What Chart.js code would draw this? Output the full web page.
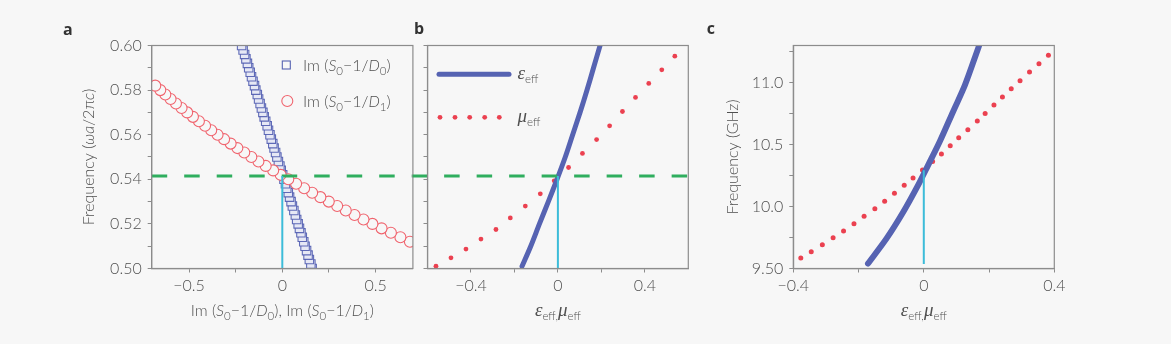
<!DOCTYPE html>
<html>
<head>
<meta charset="utf-8">
<script src="https://cdn.jsdelivr.net/npm/chart.js@4.4.1/dist/chart.umd.min.js"></script>
<style>
  body { margin: 0; background: #f7f7f7; }
  #wrap { position: relative; width: 1171px; height: 344px; background: #f7f7f7; overflow: hidden; }
  canvas { position: absolute; top: 0; }
</style>
</head>
<body>
<div id="wrap">
  <canvas id="panelA" width="420" height="344" style="left:0px"></canvas>
  <canvas id="panelB" width="300" height="344" style="left:400px"></canvas>
  <canvas id="panelC" width="471" height="344" style="left:700px"></canvas>
</div>
<script>
// ---- data ----

// panel a: Im(S0-1/D0) squares
const sqFreq = [0.500,0.502,0.504,0.506,0.508,0.510,0.512,0.514,0.516,0.518,0.520,0.522,0.524,0.526,0.528,0.530,0.532,0.534,0.536,0.538,0.540,0.542,0.544,0.546,0.548,0.550,0.552,0.554,0.556,0.558,0.560,0.562,0.564,0.566,0.568,0.570,0.572,0.574,0.576,0.578,0.580,0.582,0.584,0.586,0.588,0.590,0.592,0.594,0.596,0.598,0.600];
const imD0 = [0.160,0.153,0.145,0.138,0.130,0.122,0.115,0.107,0.100,0.092,0.085,0.077,0.070,0.062,0.054,0.047,0.039,0.032,0.024,0.017,0.009,0.002,-0.006,-0.013,-0.021,-0.029,-0.036,-0.044,-0.051,-0.059,-0.066,-0.074,-0.081,-0.089,-0.097,-0.104,-0.112,-0.119,-0.127,-0.134,-0.142,-0.149,-0.157,-0.165,-0.172,-0.180,-0.187,-0.195,-0.202,-0.210,-0.218];

// panel a: Im(S0-1/D1) circles
const circFreq = [0.512,0.514,0.516,0.518,0.520,0.522,0.524,0.526,0.528,0.530,0.532,0.534,0.536,0.538,0.540,0.542,0.544,0.546,0.548,0.550,0.552,0.554,0.556,0.558,0.560,0.562,0.564,0.566,0.568,0.570,0.572,0.574,0.576,0.578,0.580,0.582];
const imD1 = [0.684,0.633,0.582,0.532,0.483,0.435,0.387,0.340,0.294,0.249,0.204,0.160,0.117,0.074,0.032,-0.009,-0.049,-0.089,-0.128,-0.166,-0.204,-0.241,-0.277,-0.312,-0.347,-0.381,-0.414,-0.447,-0.479,-0.510,-0.540,-0.570,-0.599,-0.627,-0.654,-0.681];

// panel b: eps_eff line and mu_eff dots (normalised frequency)
const epsFreqB = [0.501,0.51,0.52,0.53,0.54,0.55,0.56,0.57,0.58,0.59,0.60];
const epsB = [-0.165,-0.125,-0.085,-0.044,-0.004,0.034,0.068,0.102,0.134,0.164,0.194];
const muFreqB = [0.5010,0.5048,0.5087,0.5132,0.5175,0.5227,0.5280,0.5335,0.5393,0.5453,0.5516,0.5578,0.5640,0.5704,0.5767,0.5830,0.5891,0.5952];
const muB = [-0.561,-0.492,-0.423,-0.354,-0.285,-0.219,-0.150,-0.081,-0.017,0.049,0.113,0.178,0.238,0.297,0.357,0.418,0.478,0.538];

// panel c: same in GHz
const epsFreqC = [9.54,9.743,9.956,10.175,10.333,10.525,10.768,10.98,11.28,11.31];
const epsC = [-0.171,-0.114,-0.063,-0.017,0.013,0.049,0.090,0.126,0.167,0.171];
const muFreqC = [9.584,9.635,9.692,9.748,9.802,9.862,9.921,9.983,10.042,10.107,10.172,10.231,10.296,10.363,10.425,10.490,10.555,10.619,10.690,10.752,10.819,10.884,10.951,11.016,11.086,11.153,11.221];
const muC = [-0.377,-0.345,-0.311,-0.278,-0.246,-0.214,-0.183,-0.150,-0.120,-0.090,-0.060,-0.033,-0.004,0.027,0.054,0.081,0.107,0.135,0.164,0.188,0.215,0.241,0.268,0.295,0.324,0.353,0.382];

// guide lines
const crossFreq = 0.5415;          // green dashed, panels a and b
const cyanC = [9.537, 10.293];     // cyan marker, panel c

// ticks
const freqTicks = [0.50,0.51,0.52,0.53,0.54,0.55,0.56,0.57,0.58,0.59,0.60];
const freqTickLabels = ['0.50','','0.52','','0.54','','0.56','','0.58','','0.60'];
const aXTicks = [-0.5,-0.25,0,0.25,0.5];
const aXTickLabels = ['\u22120.5','','0','','0.5'];
const bXTicks = [-0.4,-0.2,0,0.2,0.4];
const bXTickLabels = ['\u22120.4','','0','','0.4'];
const cXTicks = [-0.4,-0.2,0,0.2,0.4];
const cXTickLabels = ['\u22120.4','','0','','0.4'];
const cYTicks = [9.5,9.75,10,10.25,10.5,10.75,11,11.25];
const cYTickLabels = ['9.50','','10.0','','10.5','','11.0',''];

// ---- styles ----
const BG = '#f7f7f7';
const BLUE = '#5663b2';
const RED = '#eb4150';
const RED_RING = '#f0646e';
const GREEN = '#2fae5e';
const CYAN = '#3cbcd9';
const FRAME = '#8c8c8c';
const TXT = '#505050';

const pts = (xs, ys) => xs.map((x, i) => ({x: x, y: ys[i]}));

function axis(pos, min, max, ticks, labels, size) {
  return {
    type: 'linear', position: pos, min: min, max: max,
    afterBuildTicks: s => { s.ticks = ticks.map(v => ({value: v})); },
    afterFit: s => { if (pos === 'left') s.width = size; else s.height = size; },
    ticks: {
      callback: (v, i) => labels[i],
      color: TXT, font: {family: 'Lato', size: 16, weight: '300'},
      padding: pos === 'left' ? 6 : 4, maxRotation: 0, autoSkip: false
    },
    grid: { drawOnChartArea: false, tickLength: 4, color: FRAME, lineWidth: 1 },
    border: { color: FRAME, width: 1.2 }
  };
}

// rich text with italics and subscripts
const FONTS = {
  n: '300 16px Lato',
  i: 'italic 300 16px Lato',
  g: 'italic 19px "Liberation Serif"',
  s: '300 11.5px Lato',
  b: 'bold 16px "Open Sans"'
};
function drawRich(ctx, parts, x, y, align) {
  let w = 0;
  parts.forEach(([t, k]) => { ctx.font = FONTS[k]; w += ctx.measureText(t).width; });
  let cx = align === 'center' ? x - w / 2 : x;
  parts.forEach(([t, k]) => {
    ctx.font = FONTS[k];
    ctx.fillText(t, cx, y + (k === 's' ? 4 : 0));
    cx += ctx.measureText(t).width;
  });
}

const frame = {
  id: 'frame',
  afterDatasetsDraw(chart) {
    const {ctx, chartArea: a} = chart;
    ctx.save();
    ctx.strokeStyle = FRAME;
    ctx.lineWidth = 1.2;
    ctx.strokeRect(a.left, a.top, a.right - a.left, a.bottom - a.top);
    ctx.restore();
  }
};

const notes = {
  id: 'notes',
  afterDraw(chart, args, opts) {
    const {ctx, chartArea: a} = chart;
    ctx.save();
    ctx.textAlign = 'left';
    ctx.textBaseline = 'alphabetic';
    (opts.items || []).forEach(it => {
      ctx.save();
      ctx.fillStyle = it.color || TXT;
      ctx.translate(it.ax(a), it.ay(a));
      if (it.rot) ctx.rotate(it.rot);
      drawRich(ctx, it.parts, 0, 0, it.align);
      ctx.restore();
    });
    if (opts.extra) opts.extra(ctx, a);
    ctx.restore();
  }
};

const epsParts = [['\u03b5', 'g'], ['eff', 's']];
const muParts = [['\u03bc', 'g'], ['eff', 's']];
const epsMuTitle = [['\u03b5', 'g'], ['eff,', 's'], ['\u03bc', 'g'], ['eff', 's']];

function base(scales, notesOpts) {
  return {
    responsive: false, animation: false,
    layout: { padding: notesOpts.pad },
    scales: scales,
    plugins: { legend: {display: false}, tooltip: {enabled: false}, notes: notesOpts }
  };
}

// ---- panel a ----
new Chart(document.getElementById('panelA'), {
  type: 'scatter',
  data: {
    datasets: [
      { data: [{x: 0, y: 0.50}, {x: 0, y: crossFreq}], showLine: true, borderColor: CYAN, borderWidth: 2, pointRadius: 0, order: 0 },
      { data: [{x: -0.7, y: crossFreq}, {x: 0.7, y: crossFreq}], showLine: true, borderColor: GREEN, borderWidth: 3, borderDash: [15.5, 17], pointRadius: 0, clip: false, order: 1 },
      { data: pts(imD1, circFreq), pointStyle: 'circle', pointRadius: 5.5, borderColor: RED_RING, borderWidth: 1.1, backgroundColor: BG, order: 2 },
      { data: pts(imD0, sqFreq), pointStyle: 'rect', pointRadius: 6, borderColor: 'rgba(80,92,176,0.9)', borderWidth: 1.1, backgroundColor: '#e6e8f5', order: 3 }
    ]
  },
  options: base({
    x: axis('bottom', -0.7, 0.7, aXTicks, aXTickLabels, 75.5),
    y: axis('left', 0.50, 0.60, freqTicks, freqTickLabels, 151.7)
  }, {
    pad: {left: 0, right: 7, top: 45.5, bottom: 0},
    items: [
      { ax: a => 63, ay: a => 35, parts: [['a', 'b']], color: '#333' },
      { ax: a => a.left - 58, ay: a => (a.top + a.bottom) / 2, rot: -Math.PI / 2, align: 'center',
        parts: [['Frequency (', 'n'], ['\u03c9a', 'i'], ['/2\u03c0', 'n'], ['c', 'i'], [')', 'n']] },
      { ax: a => (a.left + a.right) / 2, ay: a => a.bottom + 47, align: 'center',
        parts: [['Im (', 'n'], ['S', 'i'], ['0', 's'], ['\u22121/', 'n'], ['D', 'i'], ['0', 's'], ['), Im (', 'n'], ['S', 'i'], ['0', 's'], ['\u22121/', 'n'], ['D', 'i'], ['1', 's'], [')', 'n']] },
      { ax: a => 303, ay: a => 70.5,
        parts: [['Im (', 'n'], ['S', 'i'], ['0', 's'], ['\u22121/', 'n'], ['D', 'i'], ['0', 's'], [')', 'n']] },
      { ax: a => 303, ay: a => 106.5,
        parts: [['Im (', 'n'], ['S', 'i'], ['0', 's'], ['\u22121/', 'n'], ['D', 'i'], ['1', 's'], [')', 'n']] }
    ],
    extra: (ctx) => {
      ctx.lineWidth = 1.1;
      ctx.strokeStyle = BLUE;
      ctx.strokeRect(282.3, 61, 8, 8);
      ctx.strokeStyle = RED_RING;
      ctx.beginPath();
      ctx.arc(287.3, 101, 5.5, 0, Math.PI * 2);
      ctx.stroke();
    }
  }),
  plugins: [frame, notes]
});

// ---- panel b ----
new Chart(document.getElementById('panelB'), {
  type: 'scatter',
  data: {
    datasets: [
      { data: [{x: 0, y: 0.50}, {x: 0, y: crossFreq}], showLine: true, borderColor: CYAN, borderWidth: 2, pointRadius: 0, order: 0 },
      { data: [{x: -0.667, y: crossFreq}, {x: 0.6, y: crossFreq}], showLine: true, borderColor: GREEN, borderWidth: 3, borderDash: [15.5, 17], borderDashOffset: 1.3, pointRadius: 0, clip: false, order: 1 },
      { data: pts(epsB, epsFreqB), showLine: true, borderColor: BLUE, borderWidth: 5, borderCapStyle: 'round', tension: 0.3, pointRadius: 0, order: 2 },
      { data: pts(muB, muFreqB), pointRadius: 2.4, borderWidth: 0, backgroundColor: RED, order: 3 }
    ]
  },
  options: base({
    x: axis('bottom', -0.6, 0.6, bXTicks, bXTickLabels, 75.5),
    y: axis('left', 0.50, 0.60, freqTicks, freqTicks.map(() => ''), 27.5)
  }, {
    pad: {left: 0, right: 11.7, top: 45.5, bottom: 0},
    items: [
      { ax: a => 14, ay: a => 34, parts: [['b', 'b']], color: '#333' },
      { ax: a => (a.left + a.right) / 2, ay: a => a.bottom + 47, align: 'center', parts: epsMuTitle },
      { ax: a => 117.5, ay: a => 78.5, parts: epsParts },
      { ax: a => 117.5, ay: a => 121.5, parts: muParts }
    ],
    extra: (ctx) => {
      ctx.strokeStyle = BLUE;
      ctx.lineWidth = 5;
      ctx.lineCap = 'round';
      ctx.beginPath();
      ctx.moveTo(39, 74.3);
      ctx.lineTo(109, 74.3);
      ctx.stroke();
      ctx.fillStyle = RED;
      [40, 55, 69.7, 84.7, 99.3].forEach(x => {
        ctx.beginPath();
        ctx.arc(x, 117.3, 2.4, 0, Math.PI * 2);
        ctx.fill();
      });
    }
  }),
  plugins: [frame, notes]
});

// ---- panel c ----
new Chart(document.getElementById('panelC'), {
  type: 'scatter',
  data: {
    datasets: [
      { data: [{x: 0, y: cyanC[0]}, {x: 0, y: cyanC[1]}], showLine: true, borderColor: CYAN, borderWidth: 2, pointRadius: 0, order: 0 },
      { data: pts(epsC, epsFreqC), showLine: true, borderColor: BLUE, borderWidth: 6, borderCapStyle: 'round', tension: 0.3, pointRadius: 0, order: 1 },
      { data: pts(muC, muFreqC), pointRadius: 2.5, borderWidth: 0, backgroundColor: RED, order: 2 }
    ]
  },
  options: base({
    x: axis('bottom', -0.4, 0.4, cXTicks, cXTickLabels, 75.5),
    y: axis('left', 9.5, 11.3, cYTicks, cYTickLabels, 93.3)
  }, {
    pad: {left: 0, right: 116.7, top: 45.5, bottom: 0},
    items: [
      { ax: a => 6.7, ay: a => 34, parts: [['c', 'b']], color: '#333' },
      { ax: a => a.left - 55, ay: a => (a.top + a.bottom) / 2, rot: -Math.PI / 2, align: 'center',
        parts: [['Frequency (GHz)', 'n']] },
      { ax: a => (a.left + a.right) / 2, ay: a => a.bottom + 47, align: 'center', parts: epsMuTitle }
    ]
  }),
  plugins: [frame, notes]
});
</script>
</body>
</html>
